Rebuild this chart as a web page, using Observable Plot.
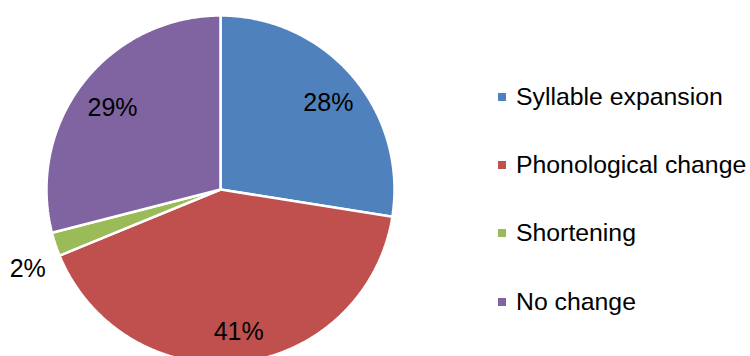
<!DOCTYPE html>
<html>
<head>
<meta charset="utf-8">
<script src="https://cdn.jsdelivr.net/npm/d3@7"></script>
<script src="https://cdn.jsdelivr.net/npm/@observablehq/plot@0.6"></script>
<style>
  html, body { margin: 0; padding: 0; background: #fff; }
  #wrap { position: relative; width: 750px; height: 356px; overflow: hidden; font-family: "Liberation Sans", Arial, sans-serif; }
  #legend { position: absolute; left: 498px; top: 0; }
  .item { position: absolute; left: 0; white-space: nowrap; font-size: 24.8px; line-height: 25px; color: #000; }
  .sw { position: absolute; left: 0; width: 8px; height: 8px; }
  .lab { position: absolute; left: 18px; }
</style>
</head>
<body>
<div id="wrap"><div id="chart"></div><div id="legend"></div></div>
<script>
const categories = ["Syllable expansion", "Phonological change", "Shortening", "No change"];
const values = [27.5, 41.3, 2.2, 29.0];
const labels = ["28%", "41%", "2%", "29%"];
const colors = ["#4F81BD", "#C0504D", "#9BBB59", "#8064A2"];

// Build slice polygons (unit circle, clockwise from 12 o'clock)
const total = d3.sum(values);
const slices = [];
const labelRows = [];
let acc = 0;
categories.forEach((name, i) => {
  const a0 = acc / total * 2 * Math.PI;
  acc += values[i];
  const a1 = acc / total * 2 * Math.PI;
  slices.push({name, x: 0, y: 0});
  const n = Math.max(2, Math.ceil((a1 - a0) / (Math.PI / 360)));
  for (let k = 0; k <= n; k++) {
    const a = a0 + (a1 - a0) * k / n;
    slices.push({name, x: Math.sin(a), y: Math.cos(a)});
  }
  const am = (a0 + a1) / 2;
  const outside = values[i] < 5;
  const r = outside ? 1.1 : 0.8;
  labelRows.push({name, label: labels[i], x: r * Math.sin(am), y: r * Math.cos(am), outside});
});

const cx = 220, cy = 189, R = 174;
const chart = Plot.plot({
  width: 750,
  height: 356,
  margin: 0,
  style: {background: "#fff", fontFamily: "Liberation Sans, Arial, sans-serif"},
  x: {domain: [-1, 1], range: [cx - R, cx + R], axis: null},
  y: {domain: [-1, 1], range: [cy + R, cy - R], axis: null},
  color: {domain: categories, range: colors},
  marks: [
    Plot.line(slices, {x: "x", y: "y", z: "name", fill: "name", stroke: "#fff", strokeWidth: 2.5, curve: "linear-closed", strokeLinejoin: "miter"}),
    Plot.text(labelRows.filter(d => !d.outside), {x: "x", y: "y", text: "label", fontSize: 25, fill: "#000", dx: 2, dy: 4}),
    Plot.text(labelRows.filter(d => d.outside), {x: "x", y: "y", text: "label", fontSize: 25, fill: "#000", textAnchor: "end", dx: 7, dy: 19})
  ]
});
document.getElementById("chart").appendChild(chart);

const legend = document.getElementById("legend");
const legendY = [97, 165, 233, 302];
categories.forEach((name, i) => {
  const sw = document.createElement("div");
  sw.className = "sw";
  sw.style.top = (legendY[i] - 4) + "px";
  sw.style.background = colors[i];
  legend.appendChild(sw);
  const t = document.createElement("div");
  t.className = "item lab";
  t.style.top = (legendY[i] + 8 - 21.2) + "px";
  t.textContent = name;
  legend.appendChild(t);
});
</script>
</body>
</html>
